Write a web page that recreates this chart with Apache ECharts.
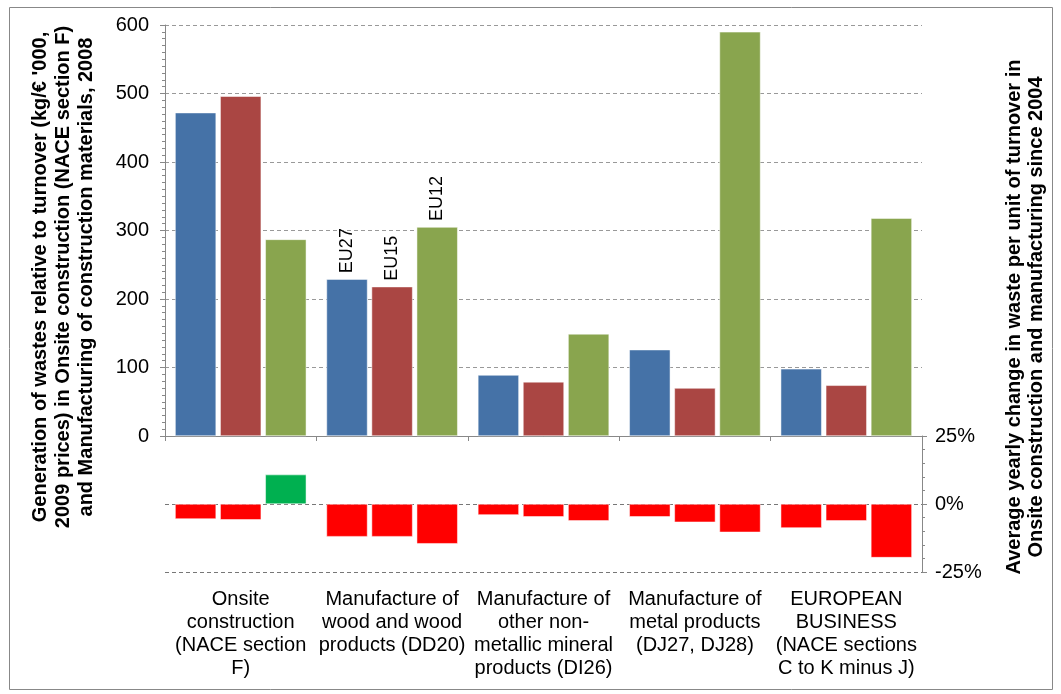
<!DOCTYPE html>
<html>
<head>
<meta charset="utf-8">
<script src="https://cdn.jsdelivr.net/npm/echarts@6/dist/echarts.min.js"></script>
<style>
  html, body { margin: 0; padding: 0; background: #fff; }
  #main { width: 1061px; height: 694px; }
</style>
</head>
<body>
<div id="main"></div>
<script>
// categories (x axis)
var categories = [
  'Onsite\nconstruction\n(NACE section\nF)',
  'Manufacture of\nwood and wood\nproducts (DD20)',
  'Manufacture of\nother non-\nmetallic mineral\nproducts (DI26)',
  'Manufacture of\nmetal products\n(DJ27, DJ28)',
  'EUROPEAN\nBUSINESS\n(NACE sections\nC to K minus J)'
];
var seriesNames = ['EU27', 'EU15', 'EU12'];

// waste per turnover 2008 (kg/€ '000)
var eu27 = [472, 229, 89, 126, 98];
var eu15 = [496, 218, 79, 70, 74];
var eu12 = [287, 305, 149, 590, 318];

// average yearly change since 2004 (%)
var chg27 = [-5.5, -12, -4, -4.7, -8.8];
var chg15 = [-5.8, -12, -4.7, -6.7, -6.2];
var chg12 = [10.8, -14.6, -6.2, -10.4, -19.7];

var colors = ['#4572A7', '#AA4643', '#89A54E'];
var font = 'Liberation Sans, Arial, sans-serif';

var chart = echarts.init(document.getElementById('main'));

function topSeries(name, vals, color) {
  return {
    name: name,
    type: 'bar',
    xAxisIndex: 0,
    yAxisIndex: 0,
    barWidth: 41,
    barGap: '10%',
    itemStyle: { color: color, borderColor: '#fff', borderWidth: 0.5 },
    data: vals.map(function (v, i) {
      if (i !== 1) return v;
      // series name written above the wood bars
      return {
        value: v,
        label: {
          show: true, position: 'top', rotate: 90, distance: 6,
          align: 'left', verticalAlign: 'middle',
          formatter: '{a}', color: '#000', fontSize: 18, fontFamily: font
        }
      };
    })
  };
}

function lowSeries(name, vals) {
  return {
    name: name,
    type: 'bar',
    xAxisIndex: 1,
    yAxisIndex: 1,
    barWidth: 41,
    barGap: '10%',
    itemStyle: {
      color: function (p) { return p.value >= 0 ? '#00B050' : '#FF0000'; },
      borderColor: '#fff', borderWidth: 0.5
    },
    data: vals
  };
}

chart.setOption({
  animation: false,
  backgroundColor: '#fff',
  grid: [
    { left: 165, right: 139, top: 25, height: 411 },
    { left: 165, right: 139, top: 436, height: 136 }
  ],
  xAxis: [{
    gridIndex: 0,
    type: 'category',
    data: categories,
    axisLine: { show: true, lineStyle: { color: '#888', width: 1 } },
    axisTick: { show: true, length: 5, lineStyle: { color: '#888' } },
    axisLabel: { show: false }
  }, {
    gridIndex: 1,
    type: 'category',
    data: categories,
    axisLine: { show: false },
    axisTick: { show: false },
    axisLabel: {
      margin: 16, fontSize: 20, lineHeight: 23, color: '#000',
      fontFamily: font, interval: 0
    }
  }],
  yAxis: [{
    gridIndex: 0,
    type: 'value',
    min: 0, max: 600, interval: 100,
    axisLine: { show: true, lineStyle: { color: '#888' } },
    axisTick: { show: true, length: 5, lineStyle: { color: '#888' } },
    minorTick: { show: true, splitNumber: 10, length: 3, lineStyle: { color: '#888' } },
    axisLabel: { fontSize: 20, color: '#000', fontFamily: font, margin: 16 },
    splitLine: { show: true, lineStyle: { color: '#999', type: [4, 3] } }
  }, {
    gridIndex: 1,
    type: 'value',
    position: 'right',
    min: -25, max: 25, interval: 25,
    axisLine: { show: true, lineStyle: { color: '#888' } },
    axisTick: { show: true, length: 5, lineStyle: { color: '#888' } },
    minorTick: { show: true, splitNumber: 5, length: 3, lineStyle: { color: '#888' } },
    axisLabel: {
      fontSize: 20, color: '#000', fontFamily: font, margin: 13,
      formatter: '{value}%'
    },
    splitLine: { show: true, lineStyle: { color: '#777', type: [4, 3] } }
  }],
  series: [
    topSeries(seriesNames[0], eu27, colors[0]),
    topSeries(seriesNames[1], eu15, colors[1]),
    topSeries(seriesNames[2], eu12, colors[2]),
    lowSeries(seriesNames[0], chg27),
    lowSeries(seriesNames[1], chg15),
    lowSeries(seriesNames[2], chg12)
  ],
  graphic: [{
    type: 'rect',
    shape: { x: 9.5, y: 7.5, width: 1043, height: 682 },
    style: { fill: 'none', stroke: '#888', lineWidth: 1 },
    silent: true
  }, {
    type: 'text',
    x: 63, y: 277,
    rotation: Math.PI / 2,
    style: {
      text: "Generation of wastes relative to turnover (kg/€ '000,\n2009 prices) in Onsite construction (NACE section F)\nand Manufacturing of construction materials, 2008",
      font: 'bold 20px ' + font,
      lineHeight: 23,
      align: 'center',
      verticalAlign: 'middle',
      fill: '#000'
    }
  }, {
    type: 'text',
    x: 1025, y: 317,
    rotation: Math.PI / 2,
    style: {
      text: 'Average yearly change in waste per unit of turnover in\nOnsite construction and manufacturing since 2004',
      font: 'bold 20px ' + font,
      lineHeight: 22,
      align: 'center',
      verticalAlign: 'middle',
      fill: '#000'
    }
  }]
});
</script>
</body>
</html>
